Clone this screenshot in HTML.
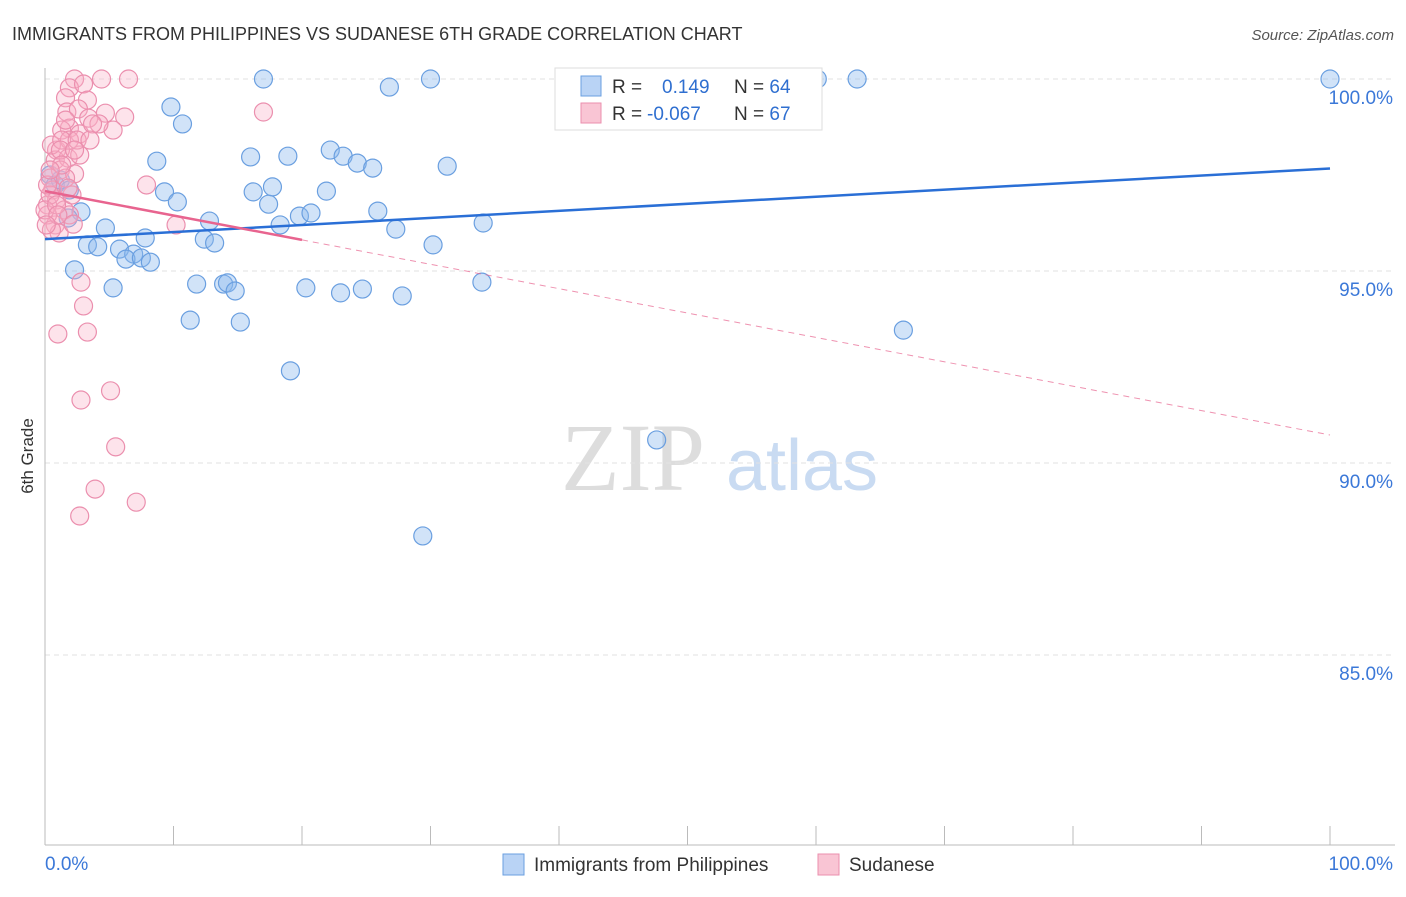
<!DOCTYPE html>
<html><head><meta charset="utf-8"><style>
body{margin:0;background:#fff;font-family:"Liberation Sans",sans-serif}
</style></head><body>
<svg id="c" width="1406" height="892" xmlns="http://www.w3.org/2000/svg" style="font-family:'Liberation Sans',sans-serif">
<text x="12" y="40" font-size="18" fill="#333">IMMIGRANTS FROM PHILIPPINES VS SUDANESE 6TH GRADE CORRELATION CHART</text>
<text x="1394" y="40" font-size="15" fill="#555" text-anchor="end" font-style="italic">Source: ZipAtlas.com</text>
<text x="33" y="456" font-size="17" fill="#333" text-anchor="middle" transform="rotate(-90 33 456)">6th Grade</text>
<g><text x="633" y="490" font-size="96" fill="#ddd" text-anchor="middle" font-family="Liberation Serif">ZIP</text><text x="802" y="490" font-size="72" fill="#c9dbf2" text-anchor="middle">atlas</text></g>
<g id="grid"></g><g id="axes"></g><g id="pts"></g><g id="trend"></g>
<g>
<rect x="555" y="68" width="267" height="62" fill="#fff" stroke="#ddd"/>
<rect x="581" y="76" width="20" height="20" fill="#b9d3f5" stroke="#6a9fe0"/>
<rect x="581" y="103" width="20" height="20" fill="#f9c5d4" stroke="#eb8fae"/>
<text x="612" y="93" font-size="19" fill="#333">R = <tspan fill="#2f6fd0" x="662">0.149</tspan><tspan fill="#333" x="734">N = </tspan><tspan fill="#2f6fd0">64</tspan></text>
<text x="612" y="120" font-size="19" fill="#333">R = <tspan fill="#2f6fd0" x="647">-0.067</tspan><tspan fill="#333" x="734">N = </tspan><tspan fill="#2f6fd0">67</tspan></text>
</g>
<g>
<rect x="503" y="854" width="21" height="21" fill="#b9d3f5" stroke="#6a9fe0"/>
<text x="534" y="871" font-size="19" fill="#333">Immigrants from Philippines</text>
<rect x="818" y="854" width="21" height="21" fill="#f9c5d4" stroke="#eb8fae"/>
<text x="849" y="871" font-size="19" fill="#333">Sudanese</text>
</g>
</svg>
<script>
const blueX=[17.0,30.0,26.8,60.1,63.2,100,9.8,10.7,8.7,16.0,18.9,22.2,23.2,24.3,25.5,31.3,9.3,10.3,16.2,17.7,17.4,21.9,19.8,20.7,25.9,27.3,34.1,12.8,18.3,12.4,13.2,30.2,2.8,1.8,4.7,7.8,3.3,4.1,5.8,6.9,6.3,7.5,8.2,2.3,5.3,11.8,13.9,14.2,14.8,20.3,23.0,24.7,27.8,34.0,11.3,15.2,19.1,66.8,47.6,29.4,0.4,0.8,1.2,1.9];
const blueY=[100,100,99.79,100,100,100,99.27,98.83,97.86,97.97,97.99,98.15,97.99,97.81,97.68,97.73,97.06,96.80,97.06,97.19,96.74,97.08,96.43,96.51,96.56,96.09,96.25,96.30,96.20,95.83,95.73,95.68,96.54,96.38,96.12,95.86,95.68,95.63,95.57,95.44,95.31,95.34,95.23,95.03,94.56,94.66,94.66,94.69,94.48,94.56,94.43,94.53,94.35,94.71,93.72,93.67,92.40,93.46,90.60,88.10,97.50,97.24,97.37,97.11];
const pinkX=[2.3,4.4,6.5,1.9,3.0,3.3,1.6,1.7,2.6,3.4,4.7,6.2,17.0,5.3,4.2,1.9,1.3,2.7,3.7,0.9,1.9,0.8,1.8,1.2,0.4,2.3,0.6,0.9,0.2,1.5,1.9,0.8,1.1,2.2,0.2,7.9,10.2,1.6,2.1,2.7,0.5,1.3,2.8,3.0,3.3,1.0,5.1,2.8,5.5,3.9,2.7,7.1,0.4,0.2,0.0,0.5,1.2,1.6,2.5,3.5,0.9,1.8,1.3,2.3,0.4,1.0,0.1];
const pinkY=[100,100,100,99.77,99.87,99.45,99.51,99.14,99.22,98.98,99.11,99.01,99.14,98.67,98.83,98.72,98.67,98.57,98.83,98.15,98.41,97.89,97.94,97.63,97.42,97.53,97.11,96.85,96.72,96.59,96.46,96.20,95.99,96.22,96.46,97.24,96.20,97.42,96.98,98.02,98.28,98.41,94.71,94.09,93.41,93.36,91.88,91.64,90.42,89.32,88.62,88.98,96.98,97.24,96.59,96.07,98.15,98.93,98.41,98.41,96.72,97.16,97.76,98.15,97.63,96.46,96.20];
const yTicks=[100,95,90,85];
const yTickLabels=["100.0%","95.0%","90.0%","85.0%"];
const xTicks=[0,10,20,30,40,50,60,70,80,90,100];
const blueTrend=[95.83,97.67];
const pinkTrend=[97.08,90.73];
const pinkSolidEnd=20;
const NS='http://www.w3.org/2000/svg';
const sx=v=>45+v*12.85, sy=v=>79+(100-v)*38.4;
function mk(t,a,p){const e=document.createElementNS(NS,t);for(const k in a)e.setAttribute(k,a[k]);p.appendChild(e);return e;}
const grid=document.getElementById('grid'),axes=document.getElementById('axes'),pts=document.getElementById('pts'),tr=document.getElementById('trend');
yTicks.forEach((v,i)=>{
 const l=mk('line',{x1:45,x2:1395,y1:sy(v),y2:sy(v),stroke:'#e2e2e2','stroke-dasharray':'5,4'},grid);
 
 
 const t=mk('text',{x:1393,y:sy(v)+25,'font-size':19,fill:'#3b78d8','text-anchor':'end'},axes);t.textContent=yTickLabels[i];
 
 
});
const ax=mk('line',{x1:45,x2:45,y1:68,y2:845,stroke:'#bbb'},axes);


const bx=mk('line',{x1:45,x2:1395,y1:845,y2:845,stroke:'#bbb'},axes);


xTicks.forEach(v=>{const l=mk('line',{x1:sx(v),x2:sx(v),y1:826,y2:845,stroke:'#bbb'},axes);
 
 });
let t1=mk('text',{x:45,y:870,'font-size':19,fill:'#3b78d8'},axes);t1.textContent='0.0%';


let t2=mk('text',{x:1393,y:870,'font-size':19,fill:'#3b78d8','text-anchor':'end'},axes);t2.textContent='100.0%';


blueX.forEach((x,i)=>{const c=mk('circle',{cx:sx(x),cy:sy(blueY[i]),r:9,fill:'rgba(140,185,238,0.4)',stroke:'#6a9fe0','stroke-width':1.2},pts);
 
 });
pinkX.forEach((x,i)=>{const c=mk('circle',{cx:sx(x),cy:sy(pinkY[i]),r:9,fill:'rgba(248,175,198,0.35)',stroke:'#eb8fae','stroke-width':1.2},pts);
 
 });
const bl=mk('line',{x1:sx(0),y1:sy(blueTrend[0]),x2:sx(100),y2:sy(blueTrend[1]),stroke:'#2a6fd6','stroke-width':2.5},tr);


const pm=pinkTrend[0]+(pinkTrend[1]-pinkTrend[0])*pinkSolidEnd/100;
const ps=mk('line',{x1:sx(0),y1:sy(pinkTrend[0]),x2:sx(pinkSolidEnd),y2:sy(pm),stroke:'#e8648f','stroke-width':2.5},tr);


const pd=mk('line',{x1:sx(pinkSolidEnd),y1:sy(pm),x2:sx(100),y2:sy(pinkTrend[1]),stroke:'#e8648f','stroke-width':1,'stroke-dasharray':'6,5',opacity:0.7},tr);


</script>
</body></html>
